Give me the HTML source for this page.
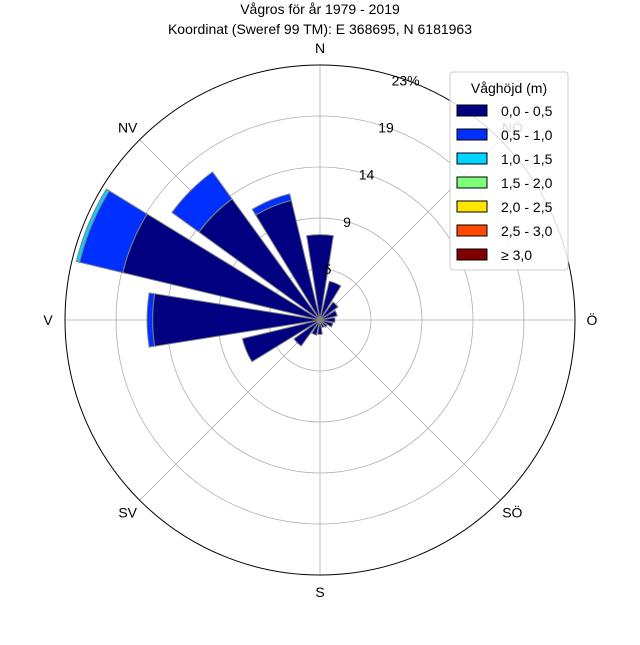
<!DOCTYPE html>
<html><head><meta charset="utf-8"><style>
body{margin:0;background:#fff;font-family:"Liberation Sans",sans-serif}
</style></head><body>
<svg id="chart" width="640" height="640" viewBox="0 0 640 640" xmlns="http://www.w3.org/2000/svg" font-family="Liberation Sans, sans-serif">
<text x="320" y="14" text-anchor="middle" font-size="14">Vågros för år 1979 - 2019</text>
<text x="320" y="34" text-anchor="middle" font-size="14">Koordinat (Sweref 99 TM): E 368695, N 6181963</text>
<g id="grid"></g>
<g id="bars"></g>
<circle cx="320" cy="320" r="255" fill="none" stroke="#000" stroke-width="1"/>
<g id="labels"></g>
<g>
<rect x="450" y="72" width="118" height="198" rx="3" fill="#fff" fill-opacity="0.85" stroke="#ccc"/>
<text x="509" y="93" text-anchor="middle" font-size="14">Våghöjd (m)</text>
<g id="legend-items"></g>
</g>
</svg>
<script>
const directions = ["N","NNÖ","NÖ","ÖNÖ","Ö","ÖSÖ","SÖ","SSÖ","S","SSV","SV","VSV","V","VNV","NV","NNV"];
const bin0 = [7.7,3.6,2.0,1.6,1.35,1.2,0.8,0.7,1.3,1.4,2.9,7.2,15.1,18.3,13.5,11.1];
const bin1 = [0,0,0,0,0,0,0,0,0,0,0,0,0.5,4.0,3.0,0.6];
const bin2 = [0,0,0,0,0,0,0,0,0,0,0,0,0,0.3,0,0];
const bins = [bin0,bin1,bin2];
const binLabels = ["0,0 - 0,5","0,5 - 1,0","1,0 - 1,5","1,5 - 2,0","2,0 - 2,5","2,5 - 3,0","≥ 3,0"];
const binColors = ["#000080","#0030ff","#00d4ff","#7dff7a","#ffe600","#ff4a00","#800000"];
const rTicks = [4.6,9.2,13.8,18.4,23];
const rTickLabels = ["5","9","14","19","23%"];
const compass = ["N","NÖ","Ö","SÖ","S","SV","V","NV"];

const NS="http://www.w3.org/2000/svg";
const cx=320, cy=320, R=255, rMax=23;
const rScale=v=>v/rMax*R;
const pt=(deg,r)=>[cx+r*Math.sin(deg*Math.PI/180), cy-r*Math.cos(deg*Math.PI/180)];
function mk(tag,attrs,parent){const e=document.createElementNS(NS,tag);for(const k in attrs)e.setAttribute(k,attrs[k]);parent.appendChild(e);return e;}
const grid=document.getElementById('grid');
rTicks.slice(0,-1).forEach(t=>{
  const c=mk('circle',{cx:cx,cy:cy,r:rScale(t),fill:'none',stroke:'#b0b0b0','stroke-width':0.8},grid);
  
  
});
compass.forEach((d,i)=>{
  const [x,y]=pt(i*45,R);
  const l=mk('line',{x1:cx,y1:cy,x2:x,y2:y,stroke:'#b0b0b0','stroke-width':0.8},grid);
  
  
});
const bars=document.getElementById('bars');
const w=22.5*0.8/2;
directions.forEach((d,i)=>{
  const a=i*22.5; let base=0;
  bins.forEach((b,k)=>{
    const v=b[i]; if(v<=0) return;
    const r0=rScale(base), r1=rScale(base+v);
    const p1=pt(a-w,r0),p2=pt(a-w,r1),p3=pt(a+w,r1),p4=pt(a+w,r0);
    const dstr=`M${p1}L${p2}A${r1},${r1} 0 0 1 ${p3}L${p4}`+(r0>0?`A${r0},${r0} 0 0 0 ${p1}`:'')+'Z';
    const p=mk('path',{d:dstr,fill:binColors[k],stroke:'#808080','stroke-width':1},bars);
    
    
    base+=v;
  });
});
const labels=document.getElementById('labels');
compass.forEach((d,i)=>{
  const [x,y]=pt(i*45,R+17);
  const t=mk('text',{x:x,y:y+5,'text-anchor':'middle','font-size':14},labels);
  t.textContent=d;
  
  
});
rTicks.forEach((v,i)=>{
  const [x,y]=pt(22.5,rScale(v));
  const t=mk('text',{x:x-12,y:y+1,'text-anchor':'middle','font-size':14},labels);
  t.textContent=rTickLabels[i];
  
  
});
const li=document.getElementById('legend-items');
binLabels.forEach((lab,i)=>{
  const y=105+i*24;
  const r=mk('rect',{x:457,y:y,width:30,height:11,fill:binColors[i],stroke:'#000','stroke-width':1},li);
  
  
  const t=mk('text',{x:501,y:y+11,'font-size':14},li);
  t.textContent=lab;
  
  
});
</script>
</body></html>
